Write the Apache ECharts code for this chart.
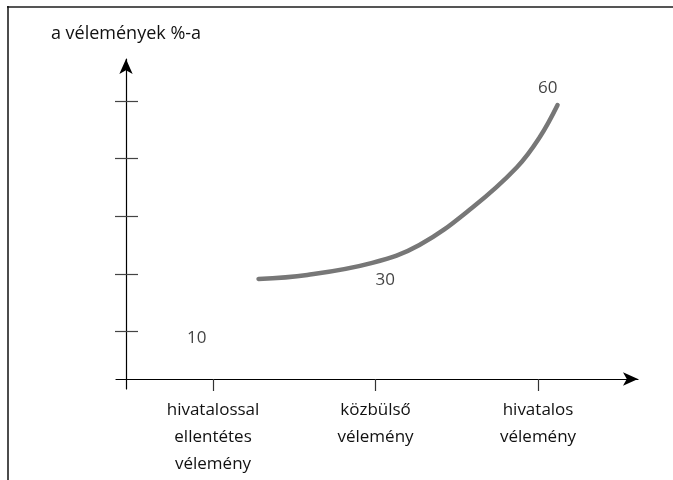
<!DOCTYPE html>
<html>
<head>
<meta charset="utf-8">
<script src="https://cdn.jsdelivr.net/npm/echarts@6/dist/echarts.min.js"></script>
<style>
  html, body { margin: 0; padding: 0; background: #fff; }
  #chart { width: 673px; height: 480px; }
</style>
</head>
<body>
<div id="chart"></div>
<script>
// horizontal axis: three opinion positions
var categories = ['hivatalossal\nellentétes\nvélemény', 'közbülső\nvélemény', 'hivatalos\nvélemény'];
var categoryPos = [1, 2, 3];
var yTicks = [1, 2, 3, 4, 5];

// the curve
var curveX = [1.28, 1.58, 1.98, 2.27, 2.6, 2.87, 3.01, 3.12];
var curveY = [1.91, 1.98, 2.19, 2.5, 3.16, 3.85, 4.37, 4.93];

// percent notes written next to the curve
var noteText = ['10', '30', '60'];
var noteX = [0.9, 2.06, 3.06];
var noteY = [0.88, 1.89, 5.23];

var font = 'Open Sans';
var chart = echarts.init(document.getElementById('chart'));

var curveData = curveX.map(function (x, i) { return [x, curveY[i]]; });
var noteData = noteX.map(function (x, i) { return { value: [x, noteY[i]], name: noteText[i] }; });

chart.setOption({
  animation: false,
  grid: { left: 116, right: 35, top: 59, bottom: 91 },
  graphic: [
    { type: 'line', shape: { x1: 7, y1: 7, x2: 673, y2: 7 }, style: { stroke: '#555', lineWidth: 2 } },
    { type: 'line', shape: { x1: 8, y1: 6, x2: 8, y2: 480 }, style: { stroke: '#111', lineWidth: 1.5 } }
  ],
  xAxis: {
    type: 'value',
    min: 0.403,
    max: 3.615,
    position: 'bottom',
    offset: -10,
    splitLine: { show: false },
    axisLine: {
      onZero: false,
      symbol: ['none', 'arrow'],
      symbolSize: [10, 15],
      lineStyle: { color: '#000', width: 1.2 }
    },
    axisTick: { customValues: categoryPos, length: 12, lineStyle: { color: '#333', width: 1.2 } },
    axisLabel: {
      customValues: categoryPos,
      formatter: function (v) { return categories[categoryPos.indexOf(v)] || ''; },
      margin: 18,
      fontFamily: font,
      fontSize: 17,
      lineHeight: 27,
      color: '#111'
    }
  },
  yAxis: [
    {
      // cross ticks: hidden line right of the axis, ticks long enough to cross it
      type: 'value',
      min: 0,
      max: 5.73,
      position: 'left',
      offset: -22,
      splitLine: { show: false },
      axisLabel: { show: false },
      axisLine: { show: true, onZero: false, lineStyle: { color: 'rgba(0,0,0,0)' } },
      axisTick: { show: true, customValues: yTicks, length: 23, lineStyle: { color: '#444', width: 1.2 } }
    },
    {
      type: 'value',
      min: 0,
      max: 5.73,
      position: 'left',
      offset: -10,
      splitLine: { show: false },
      axisLabel: { show: false },
      axisTick: { show: false },
      name: 'a vélemények %-a',
      nameLocation: 'end',
      nameGap: 25,
      nameTextStyle: { fontFamily: font, fontSize: 18, color: '#111', verticalAlign: 'middle' },
      axisLine: {
        show: true,
        onZero: false,
        symbol: ['none', 'arrow'],
        symbolSize: [10, 15],
        lineStyle: { color: '#000', width: 1.2 }
      }
    }
  ],
  series: [
    {
      type: 'line',
      data: curveData,
      yAxisIndex: 0,
      smooth: 0.4,
      showSymbol: false,
      lineStyle: { color: '#777', width: 4.5, cap: 'round' }
    },
    {
      type: 'scatter',
      data: noteData,
      yAxisIndex: 1,
      symbolSize: 0,
      label: {
        show: true,
        position: 'inside',
        formatter: '{b}',
        fontFamily: font,
        fontSize: 17,
        color: '#111'
      }
    }
  ]
});
</script>
</body>
</html>
